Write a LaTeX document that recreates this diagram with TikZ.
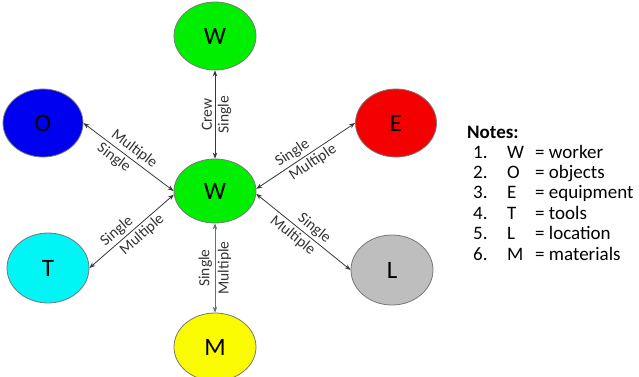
\documentclass[tikz,border=0pt]{standalone}
\usepackage{fontspec}
\setmainfont{Carlito}
\usetikzlibrary{shapes.geometric,arrows.meta}

\definecolor{wgreen}{RGB}{0,238,0}
\definecolor{oblue}{RGB}{0,0,240}
\definecolor{ered}{RGB}{245,0,0}
\definecolor{tcyan}{RGB}{0,245,245}
\definecolor{lgrey}{RGB}{190,190,190}
\definecolor{myellow}{RGB}{250,250,0}
\definecolor{rim}{RGB}{120,120,120}
\definecolor{linkgrey}{RGB}{55,55,55}
\definecolor{linkslate}{RGB}{95,110,135}

\tikzset{
  bubble/.style={ellipse, draw=rim, line width=0.8pt, inner sep=0pt,
    minimum width=82pt, minimum height=68pt,
    font=\fontsize{25}{25}\selectfont},
  conn/.style={{Stealth[length=6pt,width=4.5pt]}-{Stealth[length=6pt,width=4.5pt]},
    draw=linkgrey, line width=0.8pt},
  lab/.style={sloped, inner sep=2.5pt, font=\fontsize{15.5}{15.5}\selectfont,
    text=black!80},
  notetext/.style={anchor=base west, inner sep=0pt,
    font=\fontsize{19}{19}\selectfont}
}

\begin{document}
\begin{tikzpicture}[x=1pt,y=-1pt]
\useasboundingbox (0,0) rectangle (639,376);

% the six elements
\node[bubble, fill=wgreen] (wtop) at (215,36) {W};
\node[bubble, fill=wgreen, minimum height=64pt] (w) at (215,191) {W};
\node[bubble, fill=oblue, minimum width=80pt] (o) at (43,123) {O};
\node[bubble, fill=ered, minimum width=81pt] (e) at (396,123) {E};
\node[bubble, fill=tcyan, minimum height=70pt] (t) at (48,268) {T};
\node[bubble, fill=lgrey, minimum height=70pt] (l) at (392,270) {L};
\node[bubble, fill=myellow] (m) at (215,347) {M};

% links to the central worker
\draw[conn] (w.north) -- node[lab, above] {Crew} node[lab, below] {Single} (wtop.south);
\draw[conn] (o.east) -- node[lab, above, pos=0.5] {Multiple} node[lab, below, pos=0.4] {Single} (w.180);
\draw[conn] (w.3) -- node[lab, above, pos=0.42] {Single} node[lab, below, pos=0.52] {Multiple} (e.west);
\draw[conn] (t.east) -- node[lab, above, pos=0.4] {Single} node[lab, below, pos=0.55] {Multiple} (w.185);
\draw[conn] (w.-4) -- node[lab, above, pos=0.55] {Single} node[lab, below, pos=0.45] {Multiple} (l.west);
\draw[conn, draw=linkslate] (m.north) -- node[lab, above] {Single} node[lab, below] {Multiple} (w.south);

% legend
\node[notetext] (notes) at (467,138) {\textbf{Notes:}};
\foreach \i/\k/\v [count=\n] in {0/W/worker, 1/O/objects, 2/E/equipment,
                                  3/T/tools, 4/L/location, 5/M/materials} {
  \node[notetext] (num\n) at (473,{158+20.4*\i}) {\n.};
  \node[notetext] (key\n) at (507,{158+20.4*\i}) {\k};
  \node[notetext] (def\n) at (535,{158+20.4*\i}) {= \v};
}
\end{tikzpicture}
\end{document}
